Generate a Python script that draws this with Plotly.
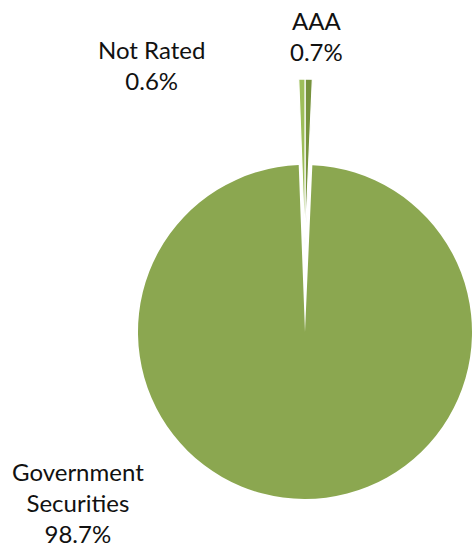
import plotly.graph_objects as go

# Credit quality breakdown (clockwise from 12 o'clock)
categories = ["AAA", "Government Securities", "Not Rated"]
shares = [0.7, 98.7, 0.6]
label_lines = ["AAA", "Government<br>Securities", "Not Rated"]
colors = ["#76923C", "#8BA750", "#9DBE5A"]
exploded = [True, False, True]

W, H = 472, 548
R = 167            # pie radius in px
CX, CY = 305, 332  # pie centre in px (from top-left)
LIFT = 86          # how far the small slices are pushed out, px


def domain_for(cx, cy, r):
    return dict(x=[(cx - r) / W, min(1.0, (cx + r) / W)],
                y=[1 - (cy + r) / H, 1 - (cy - r) / H])


transparent = "rgba(0,0,0,0)"
base_colors = [transparent if e else c for c, e in zip(colors, exploded)]
lift_colors = [c if e else transparent for c, e in zip(colors, exploded)]
lift_line_w = [1.2 if e else 0 for e in exploded]
lift_line_c = ["white" if e else transparent for e in exploded]

fig = go.Figure()
common = dict(labels=categories, values=shares, sort=False, direction="clockwise",
              rotation=0, textinfo="none", hoverinfo="label+percent",
              showlegend=False)
fig.add_trace(go.Pie(**common, domain=domain_for(CX, CY, R),
                     marker=dict(colors=base_colors, line=dict(color=transparent, width=0))))
fig.add_trace(go.Pie(**common, domain=domain_for(CX, CY - LIFT, R),
                     marker=dict(colors=lift_colors,
                                 line=dict(color=lift_line_c, width=lift_line_w))))

# Data labels
label_pos = {"AAA": (316, 36), "Government Securities": (78, 502), "Not Rated": (151, 65)}
for cat, text, val in zip(categories, label_lines, shares):
    x, y = label_pos[cat]
    fig.add_annotation(x=x / W, y=1 - y / H, xref="paper", yref="paper",
                       text=f"{text}<br>{val}%", showarrow=False,
                       xanchor="center", yanchor="middle", align="center",
                       font=dict(family="Lato", size=24, color="#111111"))

fig.update_layout(width=W, height=H, margin=dict(l=0, r=0, t=0, b=0),
                  paper_bgcolor="white", plot_bgcolor="white")
fig.write_html("out.html")
